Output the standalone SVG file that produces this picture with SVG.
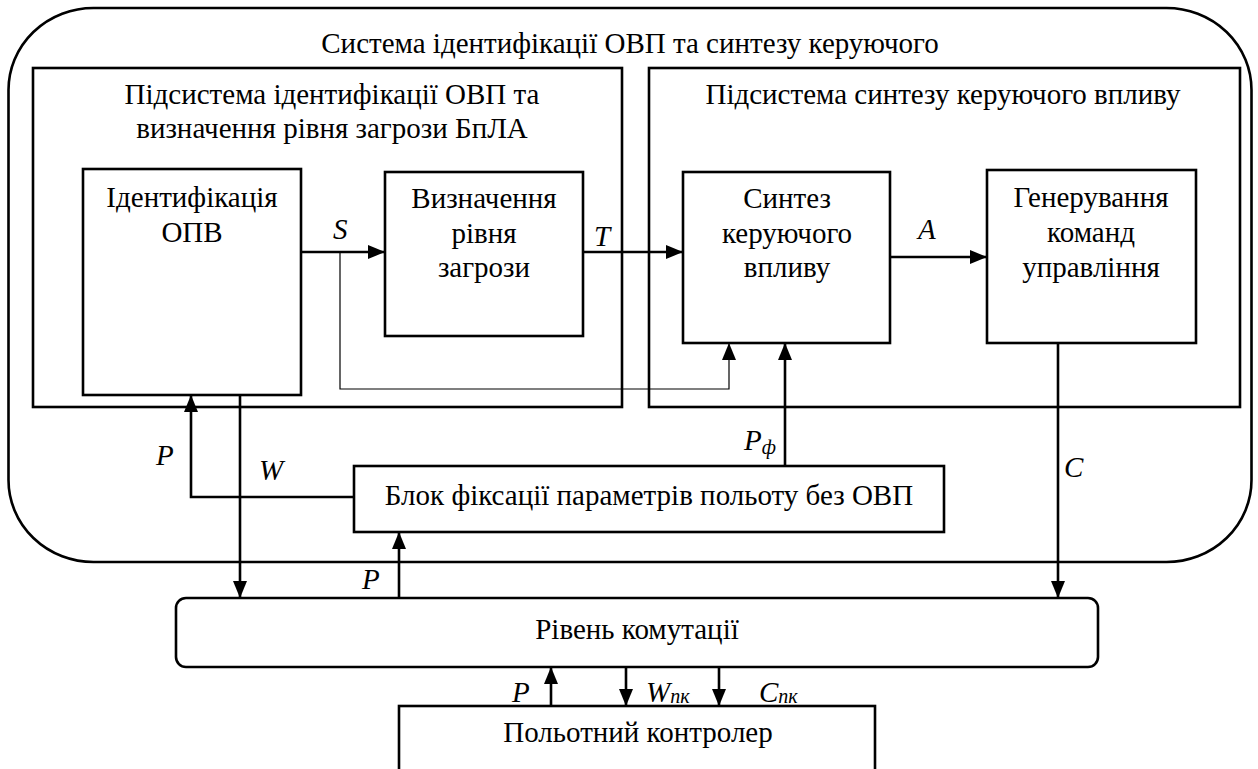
<svg xmlns="http://www.w3.org/2000/svg" width="1258" height="769" viewBox="0 0 1258 769">
<style>
.box{fill:none;stroke:#000;stroke-width:2.6}
.ln{fill:none;stroke:#000;stroke-width:2.6}
.thin{fill:none;stroke:#000;stroke-width:1.2}
text{font-family:"Liberation Serif","Times New Roman",serif;font-size:29px;fill:#000}
.c{text-anchor:middle}
.it{font-style:italic}
.sub{font-size:20px}
</style>
<defs>
<marker id="ah" markerUnits="userSpaceOnUse" markerWidth="17" markerHeight="14" refX="17" refY="7" orient="auto">
<path d="M0,0 L17,7 L0,14 z" fill="#000"/>
</marker>
</defs>
<rect width="1258" height="769" fill="#fff"/>
<g id="system">
<rect class="box" x="8.5" y="8" width="1243" height="554" rx="85" ry="82"/>
<text class="c" x="630" y="53">Система ідентифікації ОВП та синтезу керуючого</text>
</g>
<g id="subsystem-identification">
<rect class="box" x="33" y="68" width="589" height="339"/>
<text class="c" x="332" y="104">Підсистема ідентифікації ОВП та</text>
<text class="c" x="332" y="138">визначення рівня загрози БпЛА</text>
</g>
<g id="subsystem-synthesis">
<rect class="box" x="649" y="68" width="591" height="339"/>
<text class="c" x="943" y="104">Підсистема синтезу керуючого впливу</text>
</g>
<g id="identification">
<rect class="box" x="83" y="169" width="218" height="226"/>
<text class="c" x="192" y="207">Ідентифікація</text>
<text class="c" x="192" y="242">ОПВ</text>
</g>
<g id="threat">
<rect class="box" x="385" y="172" width="198" height="164"/>
<text class="c" x="484" y="208">Визначення</text>
<text class="c" x="484" y="243">рівня</text>
<text class="c" x="484" y="277">загрози</text>
</g>
<g id="synthesis">
<rect class="box" x="683" y="172" width="207" height="171"/>
<text class="c" x="787" y="208">Синтез</text>
<text class="c" x="787" y="243">керуючого</text>
<text class="c" x="787" y="277">впливу</text>
</g>
<g id="commands">
<rect class="box" x="987" y="170" width="209" height="173"/>
<text class="c" x="1091" y="207">Генерування</text>
<text class="c" x="1091" y="242">команд</text>
<text class="c" x="1091" y="277">управління</text>
</g>
<g id="fixation">
<rect class="box" x="354" y="466" width="590" height="66"/>
<text class="c" x="649" y="505">Блок фіксації параметрів польоту без ОВП</text>
</g>
<g id="switching">
<rect class="box" x="176" y="598" width="922" height="69" rx="10" ry="10"/>
<text class="c" x="637" y="639">Рівень комутації</text>
</g>
<g id="controller">
<rect class="box" x="399" y="706" width="476" height="100"/>
<text class="c" x="638" y="742">Польотний контролер</text>
</g>
<g id="connectors">
<line class="ln" x1="301" y1="252" x2="385" y2="252" marker-end="url(#ah)"/>
<path class="thin" d="M340,252 V389 H729 V343" marker-end="url(#ah)"/>
<line class="ln" x1="583" y1="252" x2="683" y2="252" marker-end="url(#ah)"/>
<line class="ln" x1="890" y1="257" x2="987" y2="257" marker-end="url(#ah)"/>
<line class="ln" x1="785" y1="466" x2="785" y2="343" marker-end="url(#ah)"/>
<line class="ln" x1="1058" y1="343" x2="1058" y2="598" marker-end="url(#ah)"/>
<path class="ln" d="M354,497 H191 V395" marker-end="url(#ah)"/>
<line class="ln" x1="240" y1="395" x2="240" y2="598" marker-end="url(#ah)"/>
<line class="ln" x1="399" y1="598" x2="399" y2="532" marker-end="url(#ah)"/>
<line class="ln" x1="551" y1="706" x2="551" y2="667" marker-end="url(#ah)"/>
<line class="ln" x1="626" y1="667" x2="626" y2="706" marker-end="url(#ah)"/>
<line class="ln" x1="719" y1="667" x2="719" y2="706" marker-end="url(#ah)"/>
<text class="it" x="333" y="239">S</text>
<text class="it" x="594" y="246">T</text>
<text class="it" x="918" y="239">A</text>
<text class="it" x="156" y="465">P</text>
<text class="it" x="259" y="480">W</text>
<text class="it" x="362" y="589">P</text>
<text class="it" x="1064" y="477">C</text>
<text class="it" x="744" y="450">P<tspan class="sub" dy="4">ф</tspan></text>
<text class="it" x="512" y="702">P</text>
<text class="it" x="646" y="702">W<tspan class="sub" dy="1">пк</tspan></text>
<text class="it" x="759" y="702">C<tspan class="sub" dy="1">пк</tspan></text>
</g>
</svg>
